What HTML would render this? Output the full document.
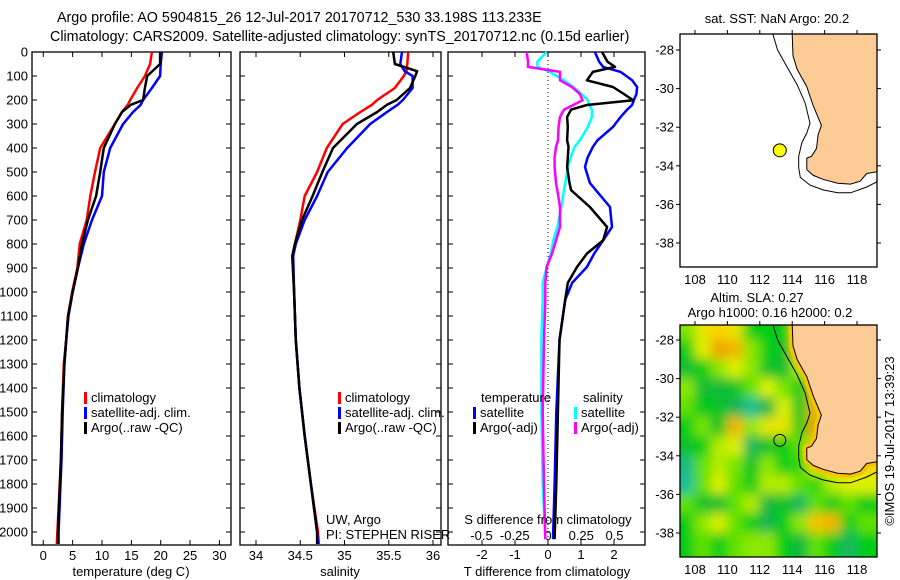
<!DOCTYPE html>
<html><head><meta charset="utf-8"><style>
html,body{margin:0;padding:0;background:#fff;}
svg{display:block;font-family:"Liberation Sans",sans-serif;}
text{fill:#000;}
</style></head><body>
<svg id="fig" width="900" height="580" xmlns="http://www.w3.org/2000/svg">
<defs>
<filter id="blur" x="-0.1" y="-0.1" width="1.2" height="1.2"><feGaussianBlur stdDeviation="5.5"/></filter>
<clipPath id="clip2"><rect x="680" y="325" width="197" height="232"/></clipPath>
<clipPath id="clip1"><rect x="680" y="34" width="197" height="233"/></clipPath>
</defs>
<g font-size="14.3">
<text x="57" y="22">Argo profile: AO 5904815_26 12-Jul-2017 20170712_530 33.198S 113.233E</text>
<text x="50" y="41">Climatology: CARS2009. Satellite-adjusted climatology: synTS_20170712.nc (0.15d earlier)</text>
</g>
<g id="panels"></g>
<g id="maps"></g>
<text transform="translate(894,441) rotate(-90)" font-size="13" text-anchor="middle">©IMOS 19-Jul-2017 13:39:23</text>
</svg>
<script>
// ---------- data ----------
const tDepths = [0,50,100,150,200,220,250,300,400,500,600,700,800,900,1000,1100,1200,1300,1500,1700,2000,2050];
const tClim   = [18.5,18.2,17.3,16.0,14.8,14.4,13.4,12.2,9.7,8.8,8.0,7.4,6.2,5.8,4.9,4.2,3.9,3.5,3.2,3.0,2.4,2.3];
const tSat    = [20.2,20.0,19.9,18.5,17.0,16.6,15.3,13.6,11.4,10.3,10.0,8.3,6.9,5.9,5.0,4.3,3.9,3.6,3.3,3.1,2.6,2.6];
const tArgo   = [19.9,19.9,17.7,17.3,17.0,14.9,13.4,12.2,10.3,9.7,9.0,7.6,6.6,5.9,5.0,4.2,3.9,3.6,3.2,3.0,2.5,2.5];
const sDepths = [0,50,80,100,150,200,220,250,300,400,500,600,700,800,850,1000,1200,1400,1600,1800,2000,2050];
const sClim   = [35.72,35.71,35.70,35.67,35.57,35.37,35.31,35.18,34.98,34.80,34.69,34.55,34.50,34.44,34.41,34.43,34.45,34.49,34.55,34.62,34.70,34.71];
const sSat    = [35.65,35.63,35.68,35.77,35.77,35.66,35.60,35.48,35.29,35.03,34.81,34.69,34.55,34.45,34.42,34.43,34.45,34.49,34.55,34.62,34.69,34.70];
const sArgo   = [35.55,35.57,35.82,35.80,35.74,35.59,35.48,35.37,35.14,34.87,34.75,34.64,34.52,34.44,34.41,34.43,34.45,34.49,34.55,34.62,34.69,34.69];
const dDepths = [0,40,62,83,118,146,175,201,221,240,271,312,368,395,440,479,546,576,646,729,785,840,896,962,1033,1200,1500,1800,2030];
const dTSat   = [1.42,1.55,1.67,2.2,2.55,2.7,2.68,2.6,2.55,2.4,2.2,1.97,1.5,1.36,1.2,1.12,1.27,1.45,1.88,1.94,1.67,1.4,1.18,0.73,0.52,0.35,0.25,0.2,0.15];
const dTArgo  = [1.64,1.8,2.03,1.36,1.18,1.97,2.3,2.58,1.18,0.7,0.58,0.6,0.58,0.62,0.6,0.58,0.65,0.7,1.27,1.79,1.67,1.18,0.88,0.6,0.52,0.35,0.3,0.25,0.2];
const dSSat   = [-0.01,-0.08,-0.08,0.015,0.12,0.19,0.25,0.3,0.31,0.33,0.33,0.3,0.24,0.2,0.17,0.15,0.13,0.12,0.1,0.07,0.04,0.02,-0.01,-0.04,-0.04,-0.05,-0.05,-0.04,-0.02];
const dSArgo  = [-0.16,-0.15,-0.15,0.09,0.09,0.18,0.24,0.26,0.19,0.12,0.09,0.08,0.075,0.06,0.05,0.05,0.06,0.07,0.09,0.09,0.06,0.03,-0.01,-0.02,-0.02,-0.03,-0.04,-0.03,-0.02];
const depthTicks = [0,100,200,300,400,500,600,700,800,900,1000,1100,1200,1300,1400,1500,1600,1700,1800,1900,2000];
const tTicks = [0,5,10,15,20,25,30];
const sTicks = [34,34.5,35,35.5,36];
const dTTicks = [-2,-1,0,1,2];
const dSTicks = [-0.5,-0.25,0,0.25,0.5];
const dSTickLabels = ["-0.5","-0.25","0","0.25","0.5"];
// map data
const coastLon = [114.0,114.05,114.3,114.9,115.3,115.8,115.6,115.5,115.2,114.9,114.9,115.3,115.9,116.8,117.6,118.2,118.6,119.3];
const coastLat = [-27.17,-28.3,-29.0,-29.9,-30.9,-31.9,-32.4,-33.1,-33.5,-33.6,-34.2,-34.5,-34.7,-34.9,-34.95,-34.8,-34.4,-34.3];
const isoLon = [112.8,113.1,113.7,114.3,114.8,115.1,114.9,114.6,114.4,114.4,114.5,115.1,115.9,116.8,117.6,118.6,119.3];
const isoLat = [-27.17,-28.0,-28.9,-29.8,-30.75,-31.8,-32.3,-32.8,-33.5,-34.1,-34.6,-35.0,-35.25,-35.4,-35.4,-35.1,-34.8];
const argoLon = 113.233, argoLat = -33.198;
const lonTicks = [108,110,112,114,116,118];
const latTicks = [-28,-30,-32,-34,-36,-38];
const slaLons = [106.5,107.5,108.5,109.5,110.5,111.5,112.5,113.5,114.5,115.5,116.5,117.5,118.5,119.5];
const slaLats = [-26.5,-27.5,-28.5,-29.5,-30.5,-31.5,-32.5,-33.5,-34.5,-35.5,-36.5,-37.5,-38.5,-39.5];
const slaRows = [
 [0.05,0.05,0.12,0.16,0.12,0.0,0.0,0.0,0.15,0.15,0.15,0.15,0.15,0.15],
 [0.05,0.05,0.12,0.16,0.12,0.0,0.0,0.0,0.15,0.15,0.15,0.15,0.15,0.15],
 [0.0,0.0,0.1,0.22,0.2,0.06,0.0,-0.02,0.18,0.18,0.15,0.15,0.15,0.15],
 [-0.03,-0.03,0.0,0.06,0.1,0.06,-0.02,-0.03,0.08,0.18,0.15,0.15,0.15,0.15],
 [0.06,0.06,-0.03,-0.04,-0.02,0.04,0.1,0.05,0.0,0.2,0.15,0.15,0.15,0.15],
 [0.04,0.04,-0.01,-0.02,-0.06,-0.12,-0.04,0.1,-0.02,0.2,0.15,0.15,0.15,0.15],
 [0.0,0.0,0.05,-0.02,0.2,0.06,0.12,0.12,0.0,0.22,0.15,0.15,0.15,0.15],
 [-0.02,-0.02,0.0,0.08,0.1,-0.07,-0.02,0.0,0.04,0.18,0.15,0.15,0.15,0.15],
 [-0.1,-0.1,0.04,0.08,0.05,-0.02,0.06,0.0,0.02,0.12,0.15,0.15,0.15,0.15],
 [-0.14,-0.14,0.04,0.1,0.04,0.0,0.08,0.08,0.04,0.02,0.08,0.1,0.1,0.1],
 [0.04,0.04,-0.02,-0.03,0.04,0.08,-0.04,-0.02,-0.07,0.04,0.0,0.04,0.0,0.0],
 [0.0,0.0,0.06,0.1,0.04,0.0,-0.06,0.0,0.06,0.18,0.2,0.0,0.04,0.04],
 [0.0,0.0,0.04,0.0,0.04,0.06,0.06,0.0,-0.04,0.04,0.0,-0.07,0.0,0.0],
 [0.0,0.0,0.04,0.0,0.04,0.06,0.06,0.0,-0.04,0.04,0.0,-0.07,0.0,0.0]
];

// ---------- helpers ----------
const NS = "http://www.w3.org/2000/svg";
function el(tag, attrs, parent){const e=document.createElementNS(NS,tag);for(const k in attrs)e.setAttribute(k,attrs[k]);parent.appendChild(e);return e;}
const panels = document.getElementById('panels');
const maps = document.getElementById('maps');
const TOP=52, BOT=545;
const py = d => TOP + d*0.24;
const tx = v => 43.3 + v*5.87;
const sx = v => 256 + (v-34)*88.5;
const dtx = v => 548 + v*33;
const dsx = v => 548 + v*133;

function frame(x0,x1,name){
  const r = el('rect',{x:x0,y:TOP,width:x1-x0,height:BOT-TOP,fill:'none',stroke:'#000','stroke-width':1.3},panels);
  
  
}
function line(xs,ds,fx,color,name,w){
  let d='';xs.forEach((v,i)=>{d+=(i?'L':'M')+fx(v).toFixed(1)+','+py(ds[i]).toFixed(1);});
  const p = el('path',{d:d,fill:'none',stroke:color,'stroke-width':w||2.5,'stroke-linejoin':'round'},panels);
  
  
}
function txt(x,y,s,parent,name,anchor,size){
  const t = el('text',{x:x,y:y,'font-size':size||13,'text-anchor':anchor||'start'},parent);
  t.textContent=s;
  
  
  return t;
}
function xticks(vals,fx,labels,ly,name){
  vals.forEach((v,i)=>{
    const x=fx(v);
    el('line',{x1:x,x2:x,y1:BOT,y2:BOT-5,stroke:'#000'},panels);
    el('line',{x1:x,x2:x,y1:TOP,y2:TOP+5,stroke:'#000'},panels);
    if(ly) txt(x,ly,labels[i],panels,name,'middle');
  });
}
function legend(x,y,items){
  items.forEach((it,i)=>{
    const r = el('rect',{x:x,y:y+i*15-10,width:3,height:12,fill:it[0]},panels);
    
    
    txt(x+7,y+i*15,it[1],panels,'legend-entry');
  });
}

// ---------- panel 1: temperature ----------
frame(32,231,'temperature-panel');
depthTicks.forEach(d=>{
  el('line',{x1:32,x2:37,y1:py(d),y2:py(d),stroke:'#000'},panels);
  el('line',{x1:231,x2:226,y1:py(d),y2:py(d),stroke:'#000'},panels);
  el('line',{x1:240,x2:245,y1:py(d),y2:py(d),stroke:'#000'},panels);
  el('line',{x1:441,x2:436,y1:py(d),y2:py(d),stroke:'#000'},panels);
  el('line',{x1:448,x2:453,y1:py(d),y2:py(d),stroke:'#000'},panels);
  el('line',{x1:645,x2:640,y1:py(d),y2:py(d),stroke:'#000'},panels);
  txt(28,py(d)+4.5,String(d),panels,'depth-tick-label','end');
});
xticks(tTicks,tx,tTicks.map(String),560,'temperature-tick-label');
line(tClim,tDepths,tx,'#f00','temperature-climatology-line');
line(tSat,tDepths,tx,'#00f','temperature-satellite-line');
line(tArgo,tDepths,tx,'#000','temperature-argo-line');
txt(131,576,'temperature (deg C)',panels,'temperature-axis-title','middle');
legend(84,402,[['#f00','climatology'],['#00f','satellite-adj. clim.'],['#000','Argo(..raw -QC)']]);

// ---------- panel 2: salinity ----------
frame(240,441,'salinity-panel');
xticks(sTicks,sx,sTicks.map(String),560,'salinity-tick-label');
line(sClim,sDepths,sx,'#f00','salinity-climatology-line');
line(sSat,sDepths,sx,'#00f','salinity-satellite-line');
line(sArgo,sDepths,sx,'#000','salinity-argo-line');
txt(340,576,'salinity',panels,'salinity-axis-title','middle');
legend(338,402,[['#f00','climatology'],['#00f','satellite-adj. clim.'],['#000','Argo(..raw -QC)']]);
txt(326,524,'UW, Argo',panels,'institution-label');
txt(326,539,'PI: STEPHEN RISER',panels,'pi-label');

// ---------- panel 3: differences ----------
frame(448,645,'difference-panel');
xticks(dTTicks,dtx,dTTicks.map(String),559,'t-diff-tick-label');
dSTicks.forEach((v,i)=>txt(dsx(v),540,dSTickLabels[i],panels,'s-diff-tick-label','middle'));
const zl = el('line',{x1:548,x2:548,y1:TOP,y2:BOT,stroke:'#000','stroke-dasharray':'1,3'},panels);


line(dSSat,dDepths,dsx,'#0ff','s-diff-satellite-line');
line(dSArgo,dDepths,dsx,'#f0f','s-diff-argo-line');
line(dTSat,dDepths,dtx,'#00f','t-diff-satellite-line');
line(dTArgo,dDepths,dtx,'#000','t-diff-argo-line');
txt(548,524,'S difference from climatology',panels,'s-diff-axis-title','middle');
txt(547,576,'T difference from climatology',panels,'t-diff-axis-title','middle');
txt(481,402,'temperature',panels,'legend-heading-temperature');
txt(583,402,'salinity',panels,'legend-heading-salinity');
legend(473,417,[['#00f','satellite'],['#000','Argo(-adj)']]);
legend(574,417,[['#0ff','satellite'],['#f0f','Argo(-adj)']]);

// ---------- maps ----------
const mx = lon => 695 + (lon-108)*16.2;
const myf = off => lat => off + 50 + (-28-lat)*19.3;
function slaColor(v){
  const stops=[[-0.12,[20,190,150]],[-0.05,[20,180,70]],[0.0,[0,205,20]],[0.05,[120,230,0]],[0.1,[220,240,0]],[0.16,[250,210,0]],[0.24,[235,150,0]]];
  if(v<=stops[0][0]) return 'rgb('+stops[0][1]+')';
  for(let i=1;i<stops.length;i++){ if(v<=stops[i][0]){const a=stops[i-1],b=stops[i];const f=(v-a[0])/(b[0]-a[0]);return 'rgb('+a[1].map((c,j)=>Math.round(c+(b[1][j]-c)*f)).join(',')+')';}}
  return 'rgb('+stops[stops.length-1][1]+')';
}
function drawMap(off,x0,y0,h,clipId,isSla){
  const my = myf(off);
  const g = el('g',{'clip-path':'url(#'+clipId+')'},maps);
  
  
  if(isSla){
    const hg = el('g',{filter:'url(#blur)'},g);
    
    
    slaLats.forEach((la,i)=>slaLons.forEach((lo,j)=>{
      const c = el('rect',{x:mx(lo)-8.6,y:my(la)-10.1,width:17.2,height:20.2,fill:slaColor(slaRows[i][j])},hg);
      
      
    }));
  }
  let iso=''; isoLon.forEach((lo,i)=>{iso+=(i?'L':'M')+mx(lo).toFixed(1)+','+my(isoLat[i]).toFixed(1);});
  let cst=''; coastLon.forEach((lo,i)=>{cst+=(i?'L':'M')+mx(lo).toFixed(1)+','+my(coastLat[i]).toFixed(1);});
  if(isSla){
    const band = el('path',{d:cst,fill:'none',stroke:'#f5c400','stroke-width':8,'stroke-linejoin':'round'},g);
    
    
  }
  const landD = cst + 'L900,'+(y0+h+20)+'L900,'+(y0-20)+'Z';
  const land = el('path',{d:landD,fill:'#fccb96',stroke:'#000','stroke-width':1},g);
  
  
  const isoP = el('path',{d:iso,fill:'none',stroke:'#000','stroke-width':1},g);
  
  
  const m = el('circle',{cx:mx(argoLon),cy:my(argoLat),r:isSla?6:6.5,fill:isSla?'none':'#ff0',stroke:'#000','stroke-width':1},maps);
  
  
  const fr = el('rect',{x:x0,y:y0,width:197,height:h,fill:'none',stroke:'#000','stroke-width':1.3},maps);
  
  
  lonTicks.forEach(lo=>{
    el('line',{x1:mx(lo),x2:mx(lo),y1:y0,y2:y0-4,stroke:'#000'},maps);
    txt(mx(lo),y0+h+17,String(lo),maps,'longitude-tick-label','middle');
  });
  latTicks.forEach(la=>{
    el('line',{x1:x0,x2:x0-4,y1:my(la),y2:my(la),stroke:'#000'},maps);
    el('line',{x1:x0+197,x2:x0+201,y1:my(la),y2:my(la),stroke:'#000'},maps);
    txt(x0-6,my(la)+4.5,String(la),maps,'latitude-tick-label','end');
  });
}
drawMap(0,680,34,233,'clip1',false);
drawMap(290,680,325,232,'clip2',true);
txt(777,23,'sat. SST: NaN Argo: 20.2',maps,'sst-map-title','middle');
txt(757,302,'Altim. SLA: 0.27',maps,'sla-map-title','middle');
txt(770,317,'Argo h1000: 0.16 h2000: 0.2',maps,'sla-map-subtitle','middle');
</script>
</body></html>
